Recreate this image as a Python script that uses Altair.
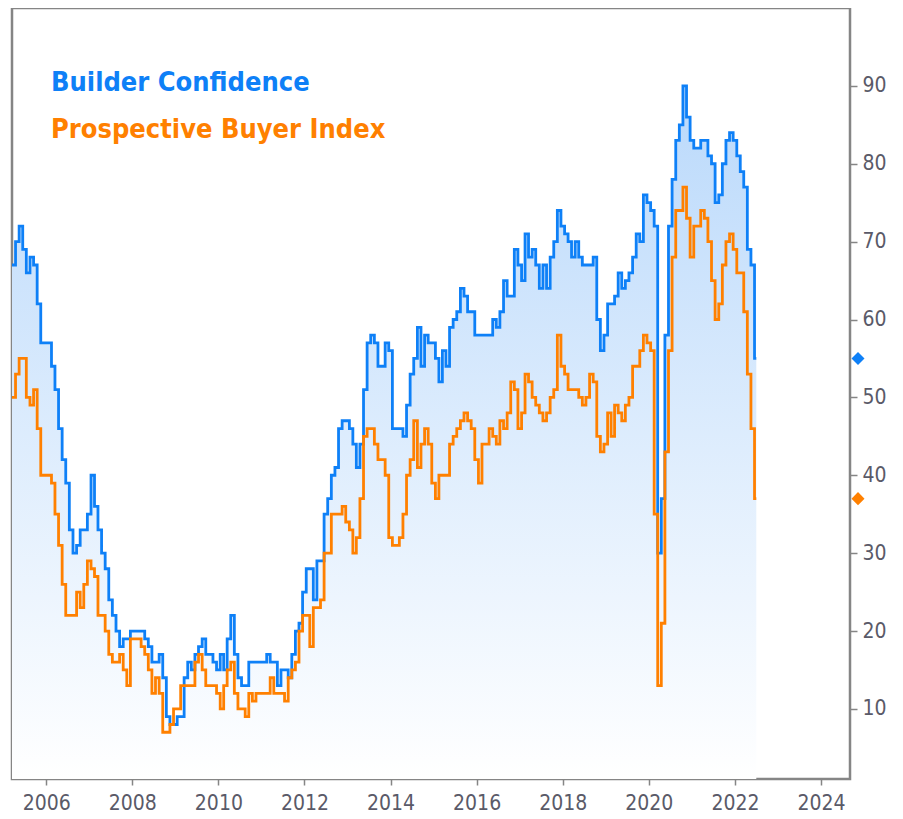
import altair as alt
import pandas as pd

# Monthly values, Mar 2005 - Jul 2022
builder_confidence = [
    67, 67, 70, 72, 69, 66, 68, 67, 62, 57,                      # 2005 (Mar-Dec)
    57, 57, 54, 51, 46, 42, 39, 33, 30, 31, 33, 33,              # 2006
    35, 40, 36, 33, 30, 28, 24, 22, 20, 18, 19, 19,              # 2007
    20, 20, 20, 20, 19, 18, 16, 16, 17, 14, 9, 8,                # 2008
    8, 9, 9, 14, 16, 15, 17, 18, 19, 17, 17, 16,                 # 2009
    15, 17, 15, 19, 22, 17, 14, 13, 13, 16, 16, 16,              # 2010
    16, 16, 17, 16, 16, 13, 15, 15, 14, 17, 20, 21,              # 2011
    25, 28, 28, 24, 29, 29, 35, 37, 40, 41, 46, 47,              # 2012
    47, 46, 44, 41, 44, 51, 57, 58, 57, 54, 54, 57,              # 2013
    56, 46, 46, 46, 45, 49, 53, 55, 59, 54, 58, 57,              # 2014
    57, 55, 52, 56, 54, 59, 60, 61, 64, 63, 61, 61,              # 2015
    58, 58, 58, 58, 58, 60, 59, 61, 65, 63, 63, 69,              # 2016
    67, 65, 71, 68, 69, 67, 64, 67, 64, 68, 70, 74,              # 2017
    72, 71, 70, 68, 70, 68, 67, 67, 67, 68, 60, 56,              # 2018
    58, 62, 62, 63, 66, 64, 65, 66, 68, 71, 70, 76,              # 2019
    75, 74, 72, 30, 37, 58, 72, 78, 83, 85, 90, 86,              # 2020
    83, 82, 82, 83, 83, 81, 80, 75, 76, 80, 83, 84,              # 2021
    83, 81, 79, 77, 69, 67, 55,                                  # 2022 (Jan-Jul)
]

prospective_buyers = [
    50, 50, 53, 55, 55, 50, 49, 51, 46, 40,                      # 2005 (Mar-Dec)
    40, 40, 39, 35, 31, 26, 22, 22, 22, 25, 23, 26,              # 2006
    29, 28, 27, 22, 22, 20, 17, 16, 16, 17, 15, 13,              # 2007
    19, 19, 19, 18, 17, 15, 12, 14, 12, 7, 7, 8,                 # 2008
    10, 10, 13, 13, 13, 13, 16, 17, 15, 13, 13, 13,              # 2009
    12, 10, 13, 15, 16, 12, 10, 10, 9, 12, 11, 12,               # 2010
    12, 12, 12, 14, 12, 12, 12, 11, 14, 15, 16, 20,              # 2011
    22, 22, 18, 23, 23, 24, 30, 30, 35, 35, 35, 36,              # 2012
    34, 33, 30, 32, 37, 45, 46, 46, 44, 42, 42, 40,              # 2013
    32, 31, 31, 32, 35, 40, 42, 47, 41, 44, 46, 44,              # 2014
    39, 37, 40, 40, 40, 44, 45, 46, 47, 48, 47, 46,              # 2015
    42, 39, 44, 44, 46, 45, 44, 47, 46, 48, 52, 51,              # 2016
    46, 48, 53, 52, 50, 49, 48, 47, 48, 50, 51, 58,              # 2017
    54, 53, 51, 51, 51, 50, 49, 50, 53, 52, 45, 43,              # 2018
    44, 48, 45, 49, 48, 47, 49, 50, 54, 54, 56, 58,              # 2019
    57, 56, 35, 13, 21, 43, 56, 68, 74, 74, 77, 73,              # 2020
    68, 72, 72, 74, 73, 70, 65, 60, 62, 67, 70, 71,              # 2021
    69, 66, 66, 61, 53, 46, 37,                                  # 2022 (Jan-Jul)
]

series_names = ["Builder Confidence", "Prospective Buyer Index"]
series_colors = ["#0e80f7", "#ff8000"]
year_ticks = [2006, 2008, 2010, 2012, 2014, 2016, 2018, 2020, 2022, 2024]
y_ticks = [10, 20, 30, 40, 50, 60, 70, 80, 90]

months = pd.date_range("2005-03-01", periods=len(builder_confidence), freq="MS")
df = pd.DataFrame({
    "date": months,
    "bc": builder_confidence,
    "pb": prospective_buyers,
})

FONT = "DejaVu Sans Condensed"
LABEL_COLOR = "#5a5a68"
FRAME = "#858585"

x_scale = alt.Scale(domain=[alt.DateTime(year=2005, month=3, date=17),
                            alt.DateTime(year=2024, month=9, date=3)])
y_scale = alt.Scale(domain=[1, 100], zero=False, nice=False)

x_axis = alt.Axis(
    values=[alt.DateTime(year=y, month=1, date=1) for y in year_ticks],
    format="%Y", title=None, grid=False, domain=False,
    tickSize=6, tickColor=FRAME, tickWidth=1.5,
    labelFontSize=21, labelColor=LABEL_COLOR, labelFont=FONT, labelPadding=7,
)
y_axis = alt.Axis(
    orient="right", values=y_ticks, title=None, grid=False, domain=False,
    tickSize=7, tickColor=FRAME, tickWidth=1.5,
    labelFontSize=21, labelColor=LABEL_COLOR, labelFont=FONT, labelPadding=5,
)

base = alt.Chart(df)

area = base.mark_area(
    interpolate="step", clip=True,
    color=alt.Gradient(
        gradient="linear",
        stops=[alt.GradientStop(color="#bad9fb", offset=0),
               alt.GradientStop(color="#ffffff", offset=1)],
        x1=1, x2=1, y1=0, y2=1,
    ),
).encode(
    x=alt.X("date:T", scale=x_scale, axis=x_axis),
    y=alt.Y("bc:Q", scale=y_scale, axis=y_axis),
    y2=alt.datum(1),
)

line_bc = base.mark_line(interpolate="step", clip=True, color=series_colors[0],
                         strokeWidth=2.8).encode(x="date:T", y="bc:Q")
line_pb = base.mark_line(interpolate="step", clip=True, color=series_colors[1],
                         strokeWidth=2.8).encode(x="date:T", y="pb:Q")

legend_df = pd.DataFrame({"label": series_names, "color": series_colors,
                          "ypix": [83, 130]})
legend = alt.Chart(legend_df).mark_text(
    align="left", baseline="alphabetic", font=FONT, fontWeight="bold", fontSize=27,
).encode(
    x=alt.value(39),
    y=alt.Y("ypix:Q", scale=None),
    text="label:N",
    color=alt.Color("color:N", scale=None),
)

last_df = pd.DataFrame({"v": [builder_confidence[-1], prospective_buyers[-1]],
                        "color": series_colors})
diamonds = alt.Chart(last_df).mark_point(
    shape="diamond", filled=True, size=170, opacity=1, clip=False,
).encode(
    x=alt.value(846),
    y="v:Q",
    color=alt.Color("color:N", scale=None),
)

chart = alt.layer(area, line_bc, line_pb, diamonds, legend).properties(
    width=838, height=771,
    padding={"left": 4, "top": 0, "right": 0, "bottom": 0},
    background="white",
).configure_view(
    stroke=FRAME, strokeWidth=2.5,
)

chart.save("out.html", embed_options={"renderer": "svg", "actions": False})
